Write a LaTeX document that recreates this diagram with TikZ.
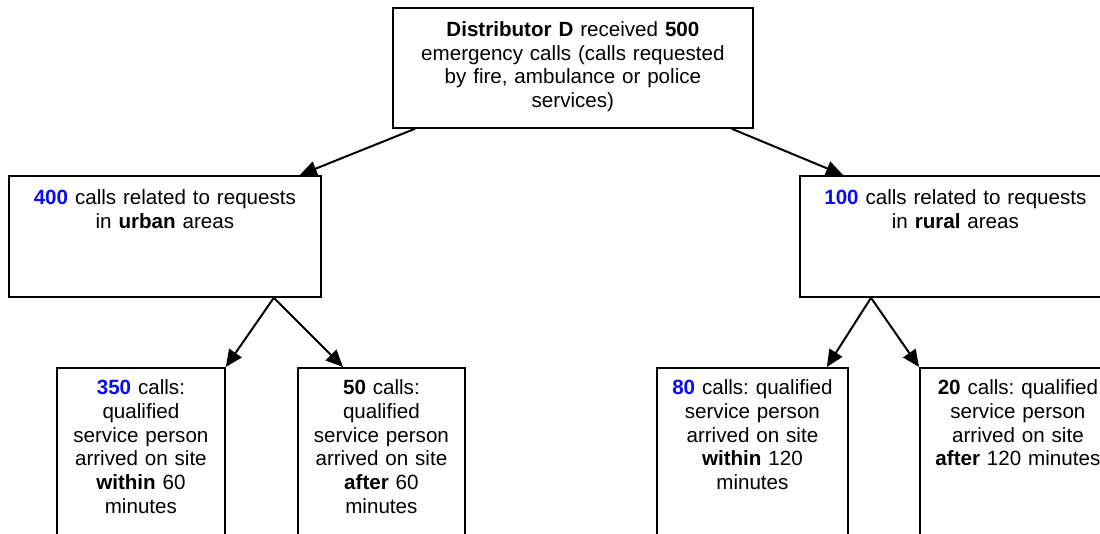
\documentclass[tikz,border=0pt]{standalone}
\usepackage{fontspec}
\setmainfont{Liberation Sans}
\usetikzlibrary{arrows.meta}
\definecolor{numblue}{RGB}{10,10,245}
\frenchspacing

\begin{document}
\begin{tikzpicture}[x=1pt, y=-1pt,
  callbox/.style={draw, line width=1.8pt, anchor=north west, align=center,
    inner xsep=4pt, inner ysep=0pt, font={\fontsize{20.6}{23.8}\selectfont}},
  flow/.style={-{Triangle[length=17pt,width=15pt]}, line width=2pt}]
\useasboundingbox (0,0) rectangle (1100,534);
\clip (0,0) rectangle (1100,534);
\node[callbox, text width=352pt, text height=28.5pt, text depth=91.5pt] (dist) at (392,7)
  {\textbf{Distributor D} received \textbf{500}\\ emergency calls (calls requested\\ by fire, ambulance or police\\ services)};
\node[callbox, text width=304pt, text height=28.5pt, text depth=92.5pt] (urban) at (8,175)
  {\textcolor{numblue}{\textbf{400}} calls related to requests\\ in \textbf{urban} areas};
\node[callbox, text width=303pt, text height=28.5pt, text depth=92.5pt] (rural) at (799,175)
  {\textcolor{numblue}{\textbf{100}} calls related to requests\\ in \textbf{rural} areas};
\node[callbox, text width=160pt, text height=26.5pt, text depth=200pt] (c350) at (56,367)
  {\textcolor{numblue}{\textbf{350}} calls:\\ qualified\\ service person\\ arrived on site\\ \textbf{within} 60\\ minutes};
\node[callbox, text width=159pt, text height=26.5pt, text depth=200pt] (c50) at (297,367)
  {\textbf{50} calls:\\ qualified\\ service person\\ arrived on site\\ \textbf{after} 60\\ minutes};
\node[callbox, text width=183pt, text height=26.5pt, text depth=200pt] (c80) at (656,367)
  {\textcolor{numblue}{\textbf{80}} calls: qualified\\ service person\\ arrived on site\\ \textbf{within} 120\\ minutes};
\node[callbox, text width=188pt, text height=26.5pt, text depth=200pt] (c20) at (919,367)
  {\textbf{20} calls: qualified\\ service person\\ arrived on site\\ \textbf{after} 120 minutes};
\draw[flow] ([xshift=23pt]dist.south west) -- ([xshift=-22pt]urban.north east);
\draw[flow] ([xshift=-22pt]dist.south east) -- ([xshift=44pt]rural.north west);
\draw[flow] ([xshift=-48pt]urban.south east) -- (c350.north east);
\draw[flow] ([xshift=-48pt]urban.south east) -- ([xshift=46pt]c50.north west);
\draw[flow] ([xshift=72pt]rural.south west) -- ([xshift=-22pt]c80.north east);
\draw[flow] ([xshift=72pt]rural.south west) -- (c20.north west);
\end{tikzpicture}
\end{document}
